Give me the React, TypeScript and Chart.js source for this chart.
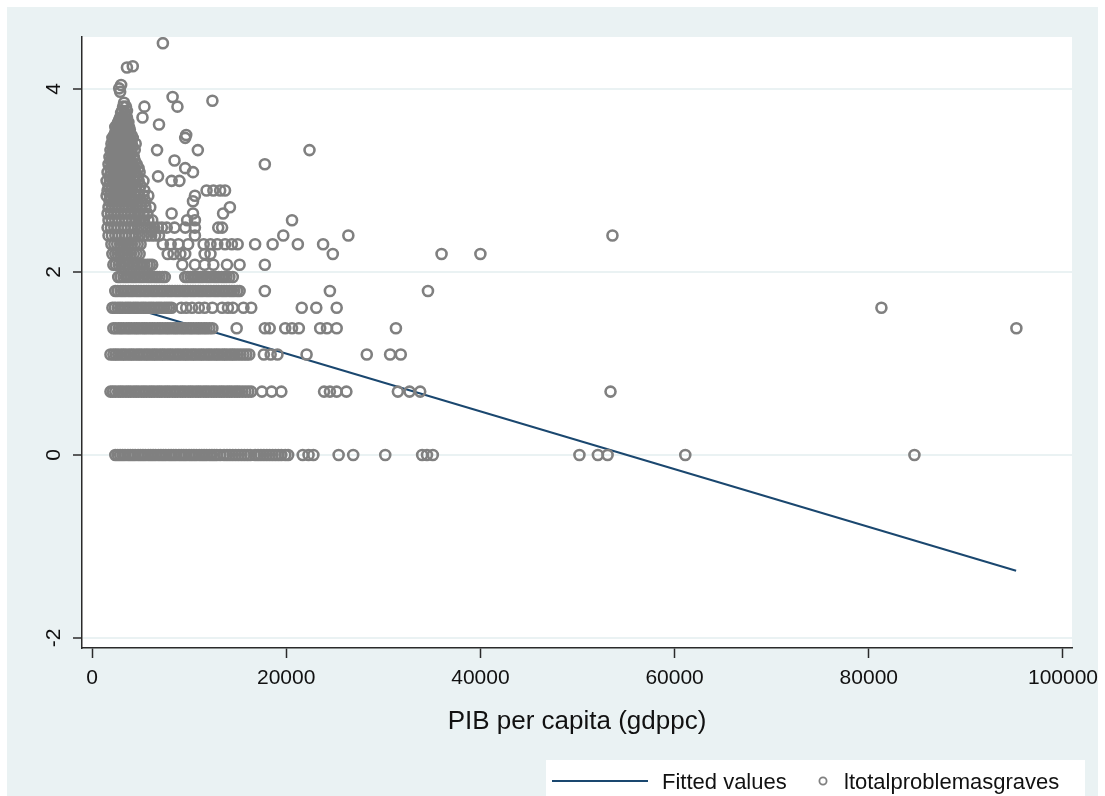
import React, { useEffect, useRef } from "react";
import { Chart, registerables } from "chart.js";

Chart.register(...registerables);

const W = 1105;
const H = 796;

// ---- tick labels ----
const xTickValues = [0, 20000, 40000, 60000, 80000, 100000];
const yTickValues = [-2, 0, 2, 4];
const xTitle = "PIB per capita (gdppc)";
const legendFitted = "Fitted values";
const legendScatter = "ltotalproblemasgraves";

// ---- scatter: GDP per capita at each log(total problems) level ----
const bandLogValues = [0, 0.693, 1.099, 1.386, 1.609, 1.792, 1.946, 2.079, 2.197, 2.303];

const gdpLog0 = [
  2400, 2650, 2900, 3150, 3400, 3700, 3950, 4200, 4450, 4750, 5000, 5250, 5500, 5800, 6050,
  6300, 6550, 6850, 7100, 7350, 7600, 7900, 8150, 8400, 8650, 8950, 9200, 9450, 9700, 10000,
  10250, 10500, 10750, 11050, 11300, 11550, 11800, 12100, 12350, 12600, 12850, 13200, 13600,
  13900, 14200, 14500, 14800, 15100, 15400, 15700, 16000, 16300, 16800, 17100, 17400, 17700,
  18000, 18300, 18600, 18900, 19200, 19500, 19900, 20200,
  21700, 22300, 22800, 25400, 26900, 30200, 34000, 34500, 35100, 50200, 52100, 53100, 61100, 84700,
];
const gdpLog069 = [
  1900, 2150, 2400, 2700, 2950, 3200, 3500, 3750, 4000, 4300, 4550, 4800, 5100, 5350, 5600,
  5900, 6150, 6400, 6700, 6950, 7200, 7500, 7750, 8000, 8300, 8550, 8800, 9100, 9350, 9600,
  9900, 10150, 10400, 10700, 10950, 11200, 11500, 11750, 12000, 12300, 12550, 12800, 13100,
  13350, 13600, 13900, 14150, 14400, 14700, 14950, 15200, 15500, 15800, 16100, 16400,
  17500, 18500, 19500, 23900, 24500, 25200, 26200, 31500, 32700, 33800, 53400,
];
const gdpLog110 = [
  1900, 2200, 2450, 2700, 3000, 3250, 3500, 3800, 4050, 4300, 4600, 4850, 5100, 5400, 5650,
  5900, 6200, 6450, 6700, 7000, 7250, 7500, 7800, 8050, 8300, 8600, 8850, 9100, 9400, 9650,
  9900, 10200, 10450, 10700, 11000, 11250, 11500, 11800, 12050, 12300, 12600, 12850, 13100,
  13400, 13650, 13900, 14200, 14450, 14700, 15000, 15300, 15600, 15900, 16200,
  17700, 18400, 19100, 22100, 28300, 30700, 31800,
];
const gdpLog139 = [
  2200, 2450, 2750, 3000, 3250, 3550, 3800, 4050, 4350, 4600, 4850, 5150, 5400, 5650, 5950,
  6200, 6450, 6750, 7000, 7250, 7550, 7800, 8050, 8350, 8600, 8850, 9150, 9400, 9650, 9950,
  10200, 10450, 10750, 11000, 11250, 11550, 11800, 12100, 12400,
  14900, 17800, 18300, 19900, 20600, 21300, 23500, 24200, 25200, 31300, 95200,
];
const gdpLog161 = [
  2100, 2350, 2650, 2900, 3150, 3450, 3700, 3950, 4250, 4500, 4750, 5050, 5300, 5550, 5850,
  6100, 6350, 6650, 6900, 7150, 7450, 7700, 7950, 8200,
  9200, 9700, 10300, 11000, 11600, 12400, 13400, 14000, 14500, 15600, 16400, 21600, 23100, 25200, 81300,
];
const gdpLog179 = [
  2400, 2650, 2950, 3200, 3450, 3750, 4000, 4250, 4550, 4800, 5050, 5350, 5600, 5850, 6150,
  6400, 6650, 6950, 7200, 7450, 7750, 8000, 8250, 8550, 8800, 9050, 9350, 9600, 9850, 10150,
  10400, 10650, 10950, 11200, 11450, 11750, 12000, 12250, 12550, 12800, 13050, 13350, 13600,
  13850, 14150, 14400, 14650, 14950, 15200,
  17800, 24500, 34600,
];
const gdpLog195 = [
  2700, 2950, 3250, 3500, 3750, 4050, 4300, 4550, 4850, 5100, 5350, 5650, 5900, 6150, 6450,
  6700, 6950, 7250, 7500,
  9600, 9850, 10150, 10400, 10650, 10950, 11200, 11450, 11750, 12000, 12250, 12550, 12800,
  13050, 13350, 13600, 13850, 14150, 14500,
];
const gdpLog208 = [
  2200, 2450, 2750, 3000, 3300, 3550, 3800, 4100, 4350, 4600, 4900, 5150, 5400, 5700, 5950, 6200,
  9300, 10600, 11600, 12500, 13900, 15200, 17800,
];
const gdpLog220 = [
  2100, 2400, 2650, 2900, 3200, 3450, 3700, 4000, 4300, 4600, 4900,
  7800, 8400, 9100, 9600, 11600, 12200, 24800, 36000, 40000,
];
const gdpLog230 = [
  2000, 2300, 2600, 2900, 3200, 3500, 3800, 4100, 4400, 4700, 5000,
  7300, 8100, 8900, 9900, 11500, 12200, 12900, 13700, 14400, 15000, 16800, 18600, 21200, 23800,
];

// upper cone and scattered points: [gdp per capita, log total problems]
const upperPoints: [number, number][] = [
  [1700, 2.398], [2050, 2.398], [2400, 2.398], [2750, 2.398], [3100, 2.398], [3450, 2.398], [3800, 2.398], [4150, 2.398],
  [4500, 2.398], [4900, 2.398], [5300, 2.398], [5700, 2.398], [6100, 2.398], [6500, 2.398], [6900, 2.398],
  [10600, 2.398], [19700, 2.398], [26400, 2.398], [53600, 2.398],
  [1600, 2.485], [1950, 2.485], [2300, 2.485], [2650, 2.485], [3000, 2.485], [3350, 2.485], [3700, 2.485], [4050, 2.485],
  [4400, 2.485], [4800, 2.485], [5200, 2.485], [5600, 2.485], [6000, 2.485], [6400, 2.485], [6800, 2.485], [7200, 2.485],
  [7700, 2.485], [8500, 2.485], [9600, 2.485], [10600, 2.485], [13000, 2.485], [13400, 2.485],
  [1700, 2.565], [2050, 2.565], [2400, 2.565], [2750, 2.565], [3100, 2.565], [3450, 2.565], [3800, 2.565], [4150, 2.565],
  [4550, 2.565], [4950, 2.565], [5350, 2.565], [5800, 2.565], [6200, 2.565], [9800, 2.565], [10600, 2.565], [20600, 2.565],
  [1600, 2.639], [1950, 2.639], [2300, 2.639], [2650, 2.639], [3000, 2.639], [3350, 2.639], [3700, 2.639], [4050, 2.639],
  [4450, 2.639], [4850, 2.639], [5300, 2.639], [5700, 2.639], [8200, 2.639], [10400, 2.639], [13500, 2.639],
  [1700, 2.708], [2050, 2.708], [2400, 2.708], [2750, 2.708], [3100, 2.708], [3450, 2.708], [3800, 2.708], [4200, 2.708],
  [4600, 2.708], [5000, 2.708], [5500, 2.708], [6000, 2.708], [14200, 2.708],
  [1800, 2.773], [2150, 2.773], [2500, 2.773], [2850, 2.773], [3200, 2.773], [3550, 2.773], [3900, 2.773], [4300, 2.773],
  [4700, 2.773], [5100, 2.773], [5500, 2.773], [10400, 2.773],
  [1500, 2.833], [1850, 2.833], [2200, 2.833], [2550, 2.833], [2900, 2.833], [3250, 2.833], [3600, 2.833], [4000, 2.833],
  [4400, 2.833], [4800, 2.833], [5300, 2.833], [5800, 2.833], [10600, 2.833],
  [1600, 2.89], [1950, 2.89], [2300, 2.89], [2650, 2.89], [3000, 2.89], [3350, 2.89], [3700, 2.89], [4100, 2.89],
  [4500, 2.89], [4900, 2.89], [5400, 2.89], [11800, 2.89], [12500, 2.89], [13200, 2.89], [13700, 2.89],
  [1700, 2.944], [2050, 2.944], [2400, 2.944], [2750, 2.944], [3100, 2.944], [3450, 2.944], [3800, 2.944], [4200, 2.944],
  [4600, 2.944], [5000, 2.944],
  [1500, 2.996], [1850, 2.996], [2200, 2.996], [2550, 2.996], [2900, 2.996], [3250, 2.996], [3600, 2.996], [4000, 2.996],
  [4400, 2.996], [4800, 2.996], [5300, 2.996], [8200, 2.996], [9000, 2.996],
  [1800, 3.045], [2150, 3.045], [2500, 3.045], [2850, 3.045], [3200, 3.045], [3550, 3.045], [3900, 3.045], [4300, 3.045],
  [4700, 3.045], [6800, 3.045],
  [1600, 3.091], [1950, 3.091], [2300, 3.091], [2650, 3.091], [3000, 3.091], [3350, 3.091], [3700, 3.091], [4100, 3.091],
  [4500, 3.091], [4900, 3.091], [10400, 3.091],
  [1900, 3.135], [2250, 3.135], [2600, 3.135], [2950, 3.135], [3300, 3.135], [3650, 3.135], [4000, 3.135], [4400, 3.135],
  [4800, 3.135], [9600, 3.135],
  [1700, 3.178], [2050, 3.178], [2400, 3.178], [2750, 3.178], [3100, 3.178], [3450, 3.178], [3800, 3.178], [4200, 3.178],
  [4600, 3.178], [17800, 3.178],
  [1900, 3.219], [2250, 3.219], [2600, 3.219], [2950, 3.219], [3300, 3.219], [3650, 3.219], [4000, 3.219], [4400, 3.219],
  [8500, 3.219],
  [1800, 3.258], [2150, 3.258], [2500, 3.258], [2850, 3.258], [3200, 3.258], [3550, 3.258], [3900, 3.258], [4300, 3.258],
  [2000, 3.296], [2350, 3.296], [2700, 3.296], [3050, 3.296], [3400, 3.296], [3750, 3.296], [4100, 3.296],
  [1900, 3.332], [2250, 3.332], [2600, 3.332], [2950, 3.332], [3300, 3.332], [3650, 3.332], [4000, 3.332], [4400, 3.332],
  [6700, 3.332], [10900, 3.332], [22400, 3.332],
  [2100, 3.367], [2450, 3.367], [2800, 3.367], [3150, 3.367], [3500, 3.367], [3850, 3.367], [4200, 3.367],
  [2000, 3.401], [2350, 3.401], [2700, 3.401], [3050, 3.401], [3400, 3.401], [3750, 3.401], [4100, 3.401], [4500, 3.401],
  [2200, 3.434], [2550, 3.434], [2900, 3.434], [3250, 3.434], [3600, 3.434], [3950, 3.434],
  [2100, 3.466], [2450, 3.466], [2800, 3.466], [3150, 3.466], [3500, 3.466], [3850, 3.466], [4200, 3.466], [9600, 3.466],
  [2300, 3.497], [2650, 3.497], [3000, 3.497], [3350, 3.497], [3700, 3.497], [4050, 3.497], [9700, 3.497],
  [2400, 3.526], [2750, 3.526], [3100, 3.526], [3450, 3.526], [3800, 3.526],
  [2500, 3.555], [2850, 3.555], [3200, 3.555], [3550, 3.555], [3900, 3.555],
  [2400, 3.584], [2750, 3.584], [3100, 3.584], [3450, 3.584], [3800, 3.584],
  [2600, 3.611], [2950, 3.611], [3300, 3.611], [3650, 3.611], [6900, 3.611],
  [2700, 3.638], [3050, 3.638], [3400, 3.638], [3750, 3.638],
  [2800, 3.664], [3150, 3.664], [3500, 3.664],
  [2900, 3.689], [3250, 3.689], [3600, 3.689], [5200, 3.689],
  [3000, 3.738], [3400, 3.738],
  [3100, 3.761], [3600, 3.761],
  [3200, 3.807], [3500, 3.807], [5400, 3.807], [8800, 3.807],
  [3300, 3.85], [12400, 3.871], [8300, 3.912],
  [2900, 3.97], [2800, 4.007], [3000, 4.043],
  [3600, 4.234], [4200, 4.248], [7300, 4.5],
];

// ---- fitted values (linear fit endpoints) ----
const fitGdp = [2400, 95172];
const fitValues = [1.663, -1.264];

const FONT = "'Liberation Sans', Arial, Helvetica, sans-serif";
const BG = "#eaf2f3";
const AXIS = "#2a2a2a";
const MARKER = "#808080";
const NAVY = "#1a476f";
const MARKER_RADIUS = 5.0;
const MARKER_WIDTH = 2.6;

export default function App() {
  const ref = useRef<HTMLCanvasElement>(null);

  useEffect(() => {
    document.body.style.margin = "0";
    const bands = [gdpLog0, gdpLog069, gdpLog110, gdpLog139, gdpLog161, gdpLog179, gdpLog195, gdpLog208, gdpLog220, gdpLog230];
    const scatterData: { x: number; y: number }[] = [];
    bands.forEach((xs, i) => xs.forEach((x) => scatterData.push({ x, y: bandLogValues[i] })));
    upperPoints.forEach(([x, y]) => scatterData.push({ x, y }));
    const fitData = fitGdp.map((x, i) => ({ x, y: fitValues[i] }));

    const decor = {
      id: "decor",
      beforeDraw(chart: any) {
        const { ctx, chartArea } = chart;
        ctx.save();
        ctx.fillStyle = "#ffffff";
        ctx.fillRect(0, 0, W, H);
        ctx.fillStyle = BG;
        ctx.fillRect(7, 7, 1091, H - 7);
        ctx.fillStyle = "#ffffff";
        ctx.fillRect(chartArea.left, chartArea.top, chartArea.right - chartArea.left, chartArea.bottom - chartArea.top);
        ctx.restore();
      },
      afterDraw(chart: any) {
        const { ctx, chartArea } = chart;
        const xs = chart.scales.x;
        const ys = chart.scales.y;
        ctx.save();
        ctx.fillStyle = "#111";
        ctx.font = `21px ${FONT}`;
        ctx.textAlign = "center";
        ctx.textBaseline = "alphabetic";
        xTickValues.forEach((v) => {
          ctx.fillText(String(v), xs.getPixelForValue(v), 684);
        });
        yTickValues.forEach((v) => {
          ctx.save();
          ctx.translate(60, ys.getPixelForValue(v));
          ctx.rotate(-Math.PI / 2);
          ctx.fillText(String(v), 0, 0);
          ctx.restore();
        });
        ctx.font = `26px ${FONT}`;
        ctx.fillText(xTitle, (chartArea.left + chartArea.right) / 2, 729);

        // legend
        ctx.fillStyle = "#ffffff";
        ctx.fillRect(546, 760, 539, 40);
        ctx.strokeStyle = NAVY;
        ctx.lineWidth = 2;
        ctx.beginPath();
        ctx.moveTo(552, 781);
        ctx.lineTo(648, 781);
        ctx.stroke();
        ctx.strokeStyle = MARKER;
        ctx.lineWidth = 1.8;
        ctx.beginPath();
        ctx.arc(823, 781, 3.6, 0, Math.PI * 2);
        ctx.stroke();
        ctx.fillStyle = "#111";
        ctx.font = `22px ${FONT}`;
        ctx.textAlign = "left";
        ctx.fillText(legendFitted, 662, 789);
        ctx.fillText(legendScatter, 844, 789);
        ctx.restore();
      },
    };

    const chart = new Chart(ref.current as HTMLCanvasElement, {
      type: "scatter",
      data: {
        datasets: [
          {
            label: legendScatter,
            data: scatterData,
            pointStyle: "circle",
            pointRadius: MARKER_RADIUS,
            pointBorderWidth: MARKER_WIDTH,
            pointBackgroundColor: "rgba(0,0,0,0)",
            pointBorderColor: MARKER,
            order: 0,
          } as any,
          {
            type: "line",
            label: legendFitted,
            data: fitData,
            borderColor: NAVY,
            borderWidth: 2,
            pointRadius: 0,
            showLine: true,
            fill: false,
            order: 1,
          } as any,
        ],
      },
      options: {
        animation: false,
        responsive: false,
        maintainAspectRatio: false,
        events: [],
        elements: {
          point: {
            radius: MARKER_RADIUS,
            borderWidth: MARKER_WIDTH,
            pointStyle: "circle",
            backgroundColor: "rgba(0,0,0,0)",
            borderColor: MARKER,
          },
        },
        layout: { padding: { left: 0, top: 37, right: 33, bottom: 0 } },
        plugins: { legend: { display: false }, tooltip: { enabled: false }, title: { display: false } },
        scales: {
          x: {
            type: "linear",
            min: -1030,
            max: 100927,
            afterFit: (s: any) => {
              s.height = 148;
            },
            afterBuildTicks: (s: any) => {
              s.ticks = xTickValues.map((v) => ({ value: v }));
            },
            ticks: { display: false },
            grid: { drawOnChartArea: false, drawTicks: true, tickLength: 10, tickColor: AXIS, tickWidth: 1.5 },
            border: { display: true, color: AXIS, width: 1.5 },
          },
          y: {
            type: "linear",
            min: -2.109,
            max: 4.568,
            afterFit: (s: any) => {
              s.width = 82;
            },
            afterBuildTicks: (s: any) => {
              s.ticks = yTickValues.map((v) => ({ value: v }));
            },
            ticks: { display: false },
            grid: { color: BG, lineWidth: 2, drawTicks: true, tickLength: 9, tickColor: AXIS, tickWidth: 1.5 },
            border: { display: true, color: AXIS, width: 1.5 },
          },
        },
      } as any,
      plugins: [decor],
    });
    return () => chart.destroy();
  }, []);

  return (
    <div style={{ position: "absolute", left: 0, top: 0, width: W, height: H }}>
      <canvas ref={ref} width={W} height={H} style={{ display: "block", width: W, height: H }} />
    </div>
  );
}
